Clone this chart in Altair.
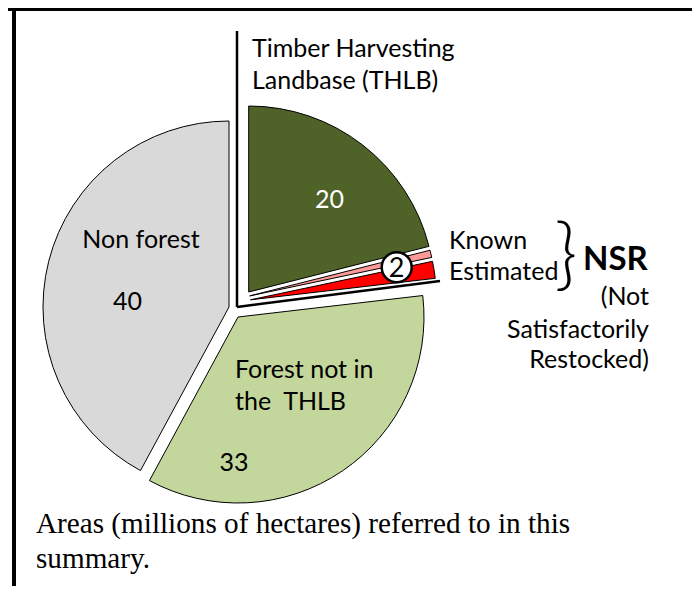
import altair as alt
import pandas as pd

# ---- data ----
categories = ["Timber Harvesting Landbase (THLB)", "Known NSR", "Estimated NSR",
              "Forest not in the THLB", "Non forest"]
values = [20, 0.6, 1.4, 33, 40]
value_labels = ["20", "2", "40", "33"]
colors = ["#4F6228", "#FF9999", "#FF0000", "#C3D69B", "#D9D9D9"]

# ---- styling (explode offsets in px, per slice) ----
explode = {
    "Timber Harvesting Landbase (THLB)": (13.7, -17),
    "Known NSR": (14.7, -13.1),
    "Estimated NSR": (15.5, -9.2),
    "Forest not in the THLB": (3, 8),
    "Non forest": (-6, -2),
}
CX, CY, R = 227, 301, 186
FONT = "Lato"
SERIF = "Liberation Serif"

total = sum(values)
ends = pd.Series(values).cumsum()
df = pd.DataFrame({"cat": categories, "value": values,
                   "start": ends - pd.Series(values), "end": ends})

W, H = 684, 578

color = alt.Color("cat:N", scale=alt.Scale(domain=categories, range=colors), legend=None)

layers = []
for c in categories:
    dx, dy = explode[c]
    layers.append(
        alt.Chart(df).transform_filter(alt.datum.cat == c).mark_arc(
            radius=R, stroke="black", strokeWidth=1, xOffset=dx, yOffset=dy
        ).encode(
            theta=alt.Theta("start:Q", scale=alt.Scale(domain=[0, total]), stack=None),
            theta2="end:Q",
            color=color,
            x=alt.value(CX), y=alt.value(CY),
        )
    )

base = alt.Chart(pd.DataFrame({"a": [0]}))

def txt(s, x, y, size=25, align="left", color="black", weight="normal", font=FONT, baseline="alphabetic"):
    return base.mark_text(text=s, align=align, baseline=baseline, fontSize=size,
                          font=font, color=color, fontWeight=weight).encode(
        x=alt.value(x), y=alt.value(y))

def rule(x, y, x2=None, y2=None, color="black", width=2.5):
    enc = {"x": alt.value(x), "y": alt.value(y)}
    if x2 is not None:
        enc["x2"] = alt.value(x2)
    if y2 is not None:
        enc["y2"] = alt.value(y2)
    return base.mark_rule(color=color, strokeWidth=width).encode(**enc)

annot = [
    # frame
    rule(0, 1, x2=W, y2=1, width=4),
    rule(6, 0, x2=6, y2=H, width=4),
    rule(688, 0, x2=688, y2=H, color="#999999", width=1),
    # THLB group bracket lines
    rule(229, 23, x2=229, y2=299),
    rule(229, 299, x2=432, y2=273),
    # labels
    txt("Timber Harvesting", 244, 49),
    txt("Landbase (THLB)", 244, 81),
    txt(value_labels[0], 307, 200, color="white"),
    txt("Non forest", 133, 240, align="center"),
    txt(value_labels[2], 119.5, 302, align="center"),
    txt("Forest not in", 227, 370),
    txt("the\u00a0\u00a0THLB", 227, 402),
    txt(value_labels[3], 226, 463, align="center"),
    txt("Known", 441, 241),
    txt("Estimated", 441, 272),
    txt("}", 558, 250, size=78, align="center", baseline="middle", weight=300),
    txt("NSR", 575, 262, size=33, weight="bold"),
    txt("(Not", 641, 297, align="right"),
    txt("Satisfactorily", 641, 330, align="right"),
    txt("Restocked)", 641, 360, align="right"),
    base.mark_point(shape="circle", size=900, filled=True, fill="white",
                    stroke="black", strokeWidth=2.5, opacity=1).encode(
        x=alt.value(388.7), y=alt.value(259.3)),
    txt(value_labels[1], 388.7, 260.5, size=27, align="center", baseline="middle"),
    txt("Areas (millions of hectares) referred to in this", 28, 525, size=29.2, font=SERIF),
    txt("summary.", 28, 560, size=29.2, font=SERIF),
]

chart = alt.layer(*layers, *annot).properties(
    width=W, height=H, padding=0, autosize=alt.AutoSizeParams(type="none")
).configure_view(strokeWidth=0)

chart.save("out.html", embed_options={"renderer": "svg", "actions": False})
